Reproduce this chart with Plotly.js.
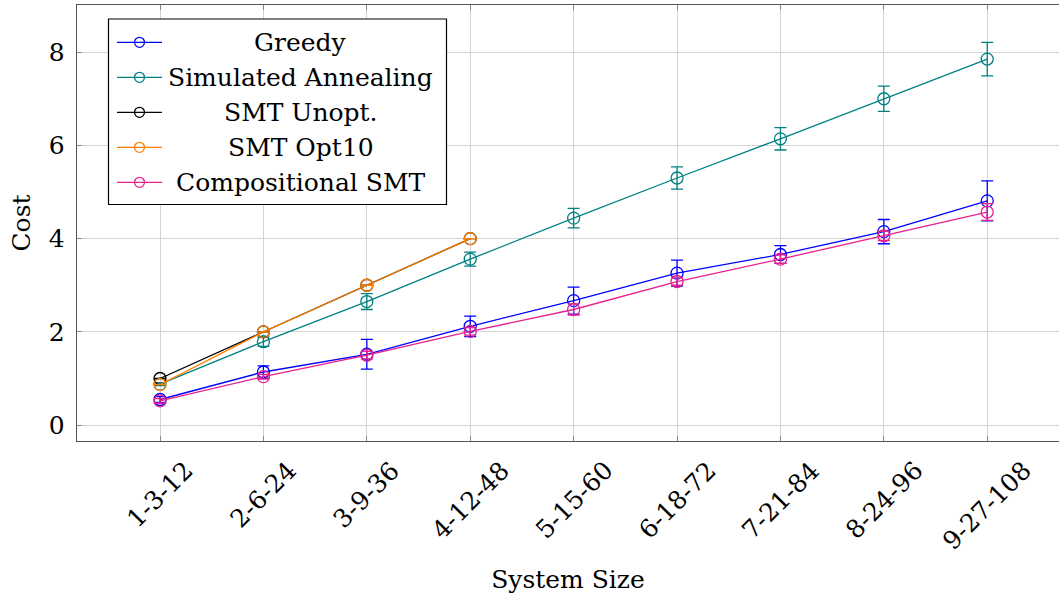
<!DOCTYPE html>
<html>
<head>
<meta charset="utf-8">
<script src="https://cdn.plot.ly/plotly-3.0.1.min.js"></script>
<style>
  html, body { margin: 0; padding: 0; overflow: hidden; background: #fff; }
  #chart { width: 1059px; height: 600px; }
</style>
</head>
<body>
<div id="chart"></div>
<script>
// System sizes on the x axis
const categories = ['1-3-12', '2-6-24', '3-9-36', '4-12-48', '5-15-60', '6-18-72', '7-21-84', '8-24-96', '9-27-108'];

// Mean cost and spread per solver
const greedy = [0.55, 1.14, 1.52, 2.12, 2.67, 3.26, 3.66, 4.15, 4.81];
const greedyErr = [0.06, 0.13, 0.32, 0.22, 0.29, 0.28, 0.19, 0.26, 0.43];

const annealing = [0.88, 1.79, 2.65, 3.56, 4.44, 5.30, 6.14, 7.00, 7.85];
const annealingErr = [0.03, 0.10, 0.17, 0.15, 0.21, 0.24, 0.24, 0.27, 0.36];

const smtUnopt = [1.0, 2.0, 3.0, 4.0];
const smtUnoptErr = [0, 0, 0, 0];

const smtOpt10 = [0.87, 2.0, 3.0, 4.0];
const smtOpt10Err = [0, 0, 0, 0];

const compositional = [0.52, 1.04, 1.50, 2.01, 2.48, 3.08, 3.56, 4.06, 4.57];
const compositionalErr = [0.05, 0.05, 0.08, 0.08, 0.12, 0.08, 0.09, 0.10, 0.18];

const seriesNames = ['Greedy', 'Simulated Annealing', 'SMT Unopt.', 'SMT Opt10', 'Compositional SMT'];
const seriesColors = ['#0000ff', '#008080', '#000000', '#ff8000', '#e8208c'];

const FONT = 'DejaVu Serif';
const FS = 25;

// plot box in page pixels
const W = 1059, H = 600;
const M = { l: 77, r: 0, t: 5, b: 159 };
const plotW = W - M.l - M.r, plotH = H - M.t - M.b;
const px2paperX = px => (px - M.l) / plotW;
const px2paperY = py => (H - M.b - py) / plotH;

function series(i, y, err) {
  return {
    type: 'scatter',
    mode: 'lines+markers',
    name: seriesNames[i],
    x: categories.slice(0, y.length),
    y: y,
    line: { color: seriesColors[i], width: 1.3 },
    marker: { symbol: 'circle-open', size: 12, color: seriesColors[i], line: { width: 1.3, color: seriesColors[i] } },
    error_y: { type: 'data', array: err, visible: true, color: seriesColors[i], thickness: 1.3, width: 6 },
    showlegend: false,
    cliponaxis: false
  };
}

const traces = [
  series(0, greedy, greedyErr),
  series(1, annealing, annealingErr),
  series(2, smtUnopt, smtUnoptErr),
  series(3, smtOpt10, smtOpt10Err),
  series(4, compositional, compositionalErr)
];

// rotated category labels under the x axis
const annotations = categories.map(c => ({
  x: c, xref: 'x', y: 0, yref: 'paper',
  xanchor: 'center', yanchor: 'top', yshift: -12,
  text: c, textangle: -45, showarrow: false,
  font: { family: FONT, size: FS, color: '#000' }
}));

// legend box with centred entries
const shapes = [];
const legBox = { x0: 108.5, x1: 446.5, y0: 19, y1: 204.5 };
shapes.push({
  type: 'rect', xref: 'paper', yref: 'paper',
  x0: px2paperX(legBox.x0), x1: px2paperX(legBox.x1),
  y0: px2paperY(legBox.y1), y1: px2paperY(legBox.y0),
  line: { color: '#000', width: 1.2 }, fillcolor: '#fff', layer: 'above'
});
const rowY0 = 42.3, rowStep = 35;
seriesNames.forEach((name, i) => {
  const yy = px2paperY(rowY0 + i * rowStep);
  shapes.push({
    type: 'line', xref: 'paper', yref: 'paper',
    x0: px2paperX(117), x1: px2paperX(162), y0: yy, y1: yy,
    line: { color: seriesColors[i], width: 1.3 }, layer: 'above'
  });
  shapes.push({
    type: 'circle', xref: 'paper', yref: 'paper',
    xsizemode: 'pixel', ysizemode: 'pixel',
    xanchor: px2paperX(139.5), yanchor: yy,
    x0: -5, x1: 5, y0: -5, y1: 5,
    line: { color: seriesColors[i], width: 1.3 }, fillcolor: 'rgba(0,0,0,0)', layer: 'above'
  });
  annotations.push({
    x: px2paperX(300.5), xref: 'paper', y: yy, yref: 'paper',
    xanchor: 'center', yanchor: 'middle', showarrow: false,
    text: name, font: { family: FONT, size: FS, color: '#000' }
  });
});

const layout = {
  width: W, height: H,
  margin: M,
  paper_bgcolor: '#fff', plot_bgcolor: '#fff',
  font: { family: FONT, size: FS, color: '#000' },
  showlegend: false,
  xaxis: {
    type: 'category',
    categoryorder: 'array', categoryarray: categories,
    range: [-0.803, 8.694],
    showgrid: true, gridcolor: '#d4d4d4', gridwidth: 1,
    showline: true, linecolor: '#555', linewidth: 1.4, mirror: 'ticks',
    ticks: 'inside', ticklen: 5, tickcolor: '#888', tickwidth: 1,
    showticklabels: false,
    zeroline: false,
    title: { text: 'System Size', font: { family: FONT, size: FS }, standoff: 129 },
    automargin: false
  },
  yaxis: {
    range: [-0.34, 9.01],
    dtick: 2, tick0: 0,
    showgrid: true, gridcolor: '#d4d4d4', gridwidth: 1,
    showline: true, linecolor: '#555', linewidth: 1.4, mirror: false,
    ticks: 'inside', ticklen: 5, tickcolor: '#888', tickwidth: 1,
    ticklabelstandoff: 6,
    zeroline: false,
    tickfont: { family: FONT, size: FS },
    title: { text: 'Cost', font: { family: FONT, size: FS }, standoff: 11 },
    automargin: false
  },
  shapes: shapes,
  annotations: annotations
};

Plotly.newPlot('chart', traces, layout, { staticPlot: true, displayModeBar: false });
</script>
</body>
</html>
